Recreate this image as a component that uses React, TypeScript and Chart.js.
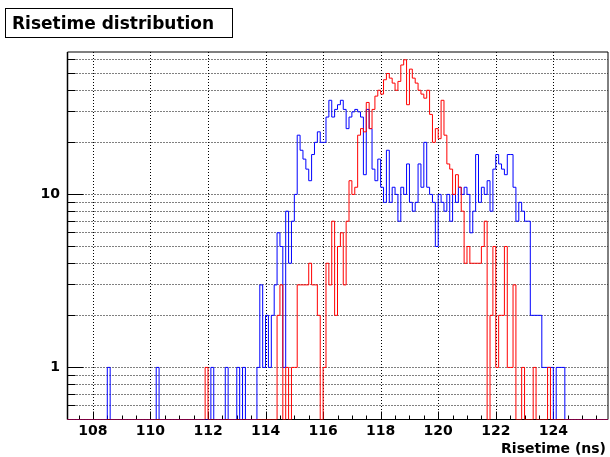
import React, { useEffect, useRef } from "react";
import { Chart, registerables } from "chart.js";

Chart.register(...registerables);

// ---- histogram definition (ROOT-style, 0.1 ns bins) ----
const histLow = 107.1;
const histHigh = 125.9;
const binWidth = 0.1;

// isolated bins holding a single entry
const blueSingles = [108.6, 110.3, 112.2, 112.7, 113.1, 113.3];
const redSingles = [112.0];

// contiguous bin contents, first bin starting at the given edge
const blueStart = 113.8;
const blueCounts = [
  1, 3, 1, 2, 1, 2, 3, 6, 5, 1, 8, 4, 7, 10, // 113.8 - 115.1
  22, 18, 16, 14, 12, 17, 20, 23, 20, 20, // 115.2 - 116.1
  28, 35, 28, 31, 33, 35, 31, 24, 28, 30, // 116.2 - 117.1
  31, 30, 28, 13, 31, 24, 14, 12, 16, 11, // 117.2 - 118.1
  9, 18, 9, 11, 10, 7, 11, 10, 15, 9, // 118.2 - 119.1
  8, 9, 15, 11, 20, 11, 10, 9, 5, 10, // 119.2 - 120.1
  9, 8, 10, 7, 10, 9, 11, 10, 11, 10, // 120.2 - 121.1
  6, 8, 17, 9, 11, 10, 12, 8, 14, 17, // 121.2 - 122.1
  15, 14, 13, 17, 17, 11, 7, 9, 8, 7, // 122.2 - 123.1
  7, 2, 2, 2, 2, 1, 1, 1, 1, 0, // 123.2 - 124.1
  1, 1, 1, // 124.2 - 124.4
];

const redStart = 114.5;
const redCounts = [
  2, 3, 0, 1, 0, 1, 1, // 114.5 - 115.1
  3, 3, 3, 3, 4, 3, 3, 2, 0, 1, // 115.2 - 116.1
  4, 3, 7, 2, 5, 6, 3, 7, 12, 10, // 116.2 - 117.1
  11, 22, 24, 23, 34, 24, 31, 37, 40, 38, // 117.2 - 118.1
  46, 50, 47, 44, 40, 45, 56, 60, 33, 53, // 118.2 - 119.1
  47, 44, 40, 38, 36, 40, 29, 20, 24, 21, // 119.2 - 120.1
  35, 22, 15, 14, 10, 13, 11, 8, 4, 5, // 120.2 - 121.1
  4, 4, 4, 4, 5, 7, 0, 2, 5, 1, // 121.2 - 122.1
  2, 2, 5, 1, 1, 3, 0, 0, 1, 0, // 122.2 - 123.1
  0, 0, 1, 0, 0, 0, 0, 1, // 123.2 - 123.9
];

// ---- axes ----
const xTickValues = [108, 110, 112, 114, 116, 118, 120, 122, 124];
const xMinorStep = 0.5;
const yTickValues = [1, 10];
const yGridValues = [0.6, 0.7, 0.8, 0.9, 1, 2, 3, 4, 5, 6, 7, 8, 9, 10, 20, 30, 40, 50, 60];
const yMin = 0.5;
const yMax = 67;

const titleText = "Risetime distribution";
const xAxisTitle = "Risetime (ns)";

const FONT = "'DejaVu Sans', Verdana, sans-serif";

function buildSteps(start: number, counts: number[], singles: number[]) {
  const n = Math.round((histHigh - histLow) / binWidth);
  const bins = new Array(n).fill(0);
  singles.forEach((v) => {
    bins[Math.round((v - histLow) / binWidth)] += 1;
  });
  const k0 = Math.round((start - histLow) / binWidth);
  counts.forEach((c, i) => {
    bins[k0 + i] += c;
  });
  const pts = bins.map((c, k) => ({
    x: histLow + k * binWidth,
    y: c > 0 ? c : yMin,
  }));
  pts.push({ x: histHigh, y: pts[pts.length - 1].y });
  return pts;
}

const rootDecor = {
  id: "rootDecor",
  beforeDatasetsDraw(chart: any) {
    const { ctx, chartArea: a, scales } = chart;
    const xs = scales.x;
    const ys = scales.y;
    const L = Math.floor(a.left) + 0.5;
    const R = Math.round(a.right);
    const T = Math.round(a.top);
    const B = Math.floor(a.bottom) + 0.5;
    ctx.save();
    // dotted grid
    ctx.strokeStyle = "#000";
    ctx.lineWidth = 1;
    ctx.setLineDash([1, 2]);
    xTickValues.forEach((v) => {
      const px = Math.round(xs.getPixelForValue(v)) + 0.5;
      ctx.beginPath();
      ctx.moveTo(px, T);
      ctx.lineTo(px, B);
      ctx.stroke();
    });
    yGridValues.forEach((v) => {
      const py = Math.floor(ys.getPixelForValue(v)) + 0.5;
      ctx.beginPath();
      ctx.moveTo(L, py);
      ctx.lineTo(R, py);
      ctx.stroke();
    });
    ctx.setLineDash([]);
    // frame: top and right (soft), left and bottom (crisp)
    ctx.beginPath();
    ctx.moveTo(L, T);
    ctx.lineTo(R, T);
    ctx.lineTo(R, B);
    ctx.stroke();
    ctx.lineWidth = 1.5;
    ctx.beginPath();
    ctx.moveTo(L, T);
    ctx.lineTo(L, B);
    ctx.stroke();
    ctx.lineWidth = 1;
    ctx.beginPath();
    ctx.moveTo(L, B);
    ctx.lineTo(R, B);
    ctx.stroke();
    // x ticks (inside, pointing up)
    for (let v = Math.ceil(histLow / xMinorStep) * xMinorStep; v <= histHigh; v += xMinorStep) {
      const major = xTickValues.some((t) => Math.abs(t - v) < 1e-6);
      const px = Math.round(xs.getPixelForValue(v)) + 0.5;
      ctx.beginPath();
      ctx.moveTo(px, B);
      ctx.lineTo(px, B - (major ? 8 : 4));
      ctx.stroke();
    }
    // y ticks (inside, pointing right)
    yGridValues.forEach((v) => {
      const major = yTickValues.indexOf(v) >= 0;
      const py = Math.floor(ys.getPixelForValue(v)) + 0.5;
      ctx.beginPath();
      ctx.moveTo(L, py);
      ctx.lineTo(L + (major ? 16 : 8), py);
      ctx.stroke();
    });
    ctx.restore();
  },
  afterDraw(chart: any) {
    const { ctx } = chart;
    ctx.save();
    // title box
    ctx.fillStyle = "#fff";
    ctx.fillRect(5, 8, 227, 29);
    ctx.strokeStyle = "#000";
    ctx.lineWidth = 1;
    ctx.strokeRect(5.5, 8.5, 227, 29);
    ctx.fillStyle = "#000";
    ctx.font = `bold 17px ${FONT}`;
    ctx.textAlign = "left";
    ctx.textBaseline = "alphabetic";
    ctx.fillText(titleText, 12, 29);
    // x-axis title
    ctx.font = `bold 14px ${FONT}`;
    ctx.textAlign = "right";
    ctx.fillText(xAxisTitle, 606, 453);
    ctx.restore();
  },
};

export default function App() {
  const ref = useRef<HTMLCanvasElement | null>(null);
  useEffect(() => {
    document.body.style.margin = "0";
    document.body.style.background = "#fff";
    const canvas = ref.current;
    if (!canvas) return;
    const chart = new Chart(canvas, {
      type: "line",
      data: {
        datasets: [
          {
            label: "red",
            data: buildSteps(redStart, redCounts, redSingles),
            borderColor: "#ff0000",
            borderWidth: 1,
            pointRadius: 0,
            stepped: "after",
            fill: false,
          },
          {
            label: "blue",
            data: buildSteps(blueStart, blueCounts, blueSingles),
            borderColor: "#0000ff",
            borderWidth: 1,
            pointRadius: 0,
            stepped: "after",
            fill: false,
          },
        ],
      },
      options: {
        responsive: false,
        animation: false,
        events: [],
        parsing: false,
        layout: { padding: { left: 0, right: 2, top: 51.5, bottom: 0 } },
        plugins: {
          legend: { display: false },
          title: { display: false },
          tooltip: { enabled: false },
        },
        scales: {
          x: {
            type: "linear",
            min: histLow,
            max: histHigh,
            grid: { display: false, drawTicks: false },
            border: { display: false },
            afterBuildTicks: (axis: any) => {
              axis.ticks = xTickValues.map((v) => ({ value: v }));
            },
            afterFit: (axis: any) => {
              axis.height = 37.5;
            },
            ticks: {
              autoSkip: false,
              maxRotation: 0,
              padding: 3,
              color: "#000",
              font: { family: FONT, size: 14, weight: "bold" },
              callback: (v: any) => String(v),
            },
          },
          y: {
            type: "logarithmic",
            min: yMin,
            max: yMax,
            grid: { display: false, drawTicks: false },
            border: { display: false },
            afterBuildTicks: (axis: any) => {
              axis.ticks = yTickValues.map((v) => ({ value: v }));
            },
            afterFit: (axis: any) => {
              axis.width = 67;
            },
            ticks: {
              autoSkip: false,
              padding: 7,
              color: "#000",
              font: { family: FONT, size: 14, weight: "bold" },
              callback: (v: any) => String(v),
            },
          },
        },
      },
      plugins: [rootDecor],
    });
    return () => chart.destroy();
  }, []);
  return (
    <canvas
      ref={ref}
      width={610}
      height={457}
      style={{ display: "block", width: 610, height: 457 }}
    />
  );
}
